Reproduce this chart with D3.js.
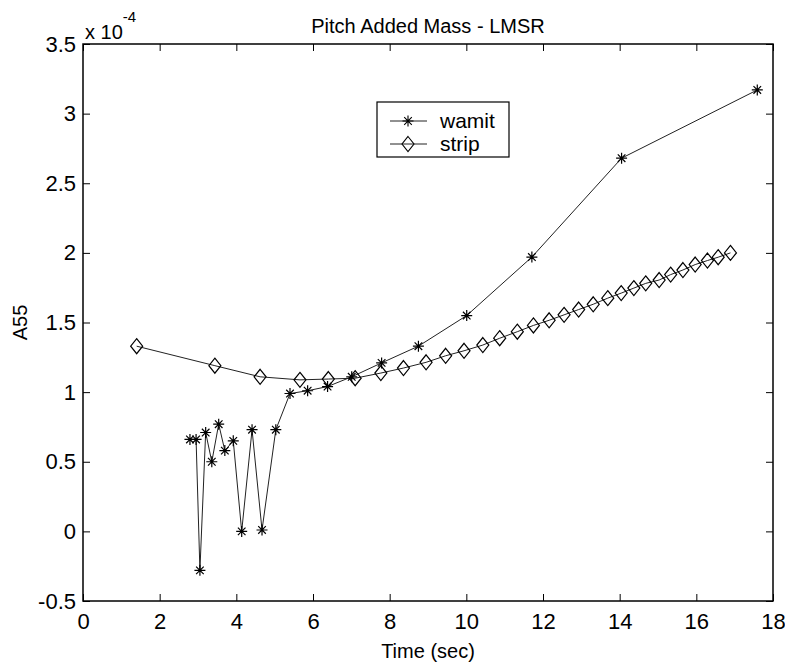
<!DOCTYPE html>
<html>
<head>
<meta charset="utf-8">
<script src="https://cdn.jsdelivr.net/npm/d3@7"></script>
<style>
  body { margin: 0; background: #fff; }
  text { font-family: "Liberation Sans", Arial, sans-serif; fill: #000; }
</style>
</head>
<body>
<div id="chart"></div>
<script>
// wamit: period (s) and A55 (x 1e-4)
const wamitT = [2.79, 2.95, 3.05, 3.20, 3.36, 3.54, 3.70, 3.92, 4.14, 4.41, 4.67, 5.03, 5.40, 5.86, 6.38,
                7.01, 7.79, 8.75, 10.01, 11.71, 14.05, 17.59];
const wamitA = [0.66, 0.66, -0.28, 0.71, 0.50, 0.77, 0.58, 0.65, 0.00, 0.73, 0.01, 0.73, 0.99, 1.01, 1.04,
                1.11, 1.21, 1.33, 1.55, 1.97, 2.68, 3.17];

// strip theory
const stripT = [1.40, 3.44, 4.62, 5.66, 6.40, 7.10, 7.77, 8.36, 8.95, 9.46, 9.94, 10.43, 10.87, 11.33,
                11.75, 12.16, 12.55, 12.93, 13.31, 13.69, 14.04, 14.37, 14.68, 15.03, 15.33, 15.65,
                15.97, 16.29, 16.57, 16.89];
const stripA = [1.33, 1.19, 1.11, 1.088, 1.094, 1.10, 1.137, 1.173, 1.214, 1.261, 1.297, 1.338, 1.387, 1.434,
                1.479, 1.516, 1.555, 1.593, 1.631, 1.675, 1.711, 1.747, 1.781, 1.805, 1.844, 1.877,
                1.916, 1.945, 1.969, 2.0];

const xTicks = [0, 2, 4, 6, 8, 10, 12, 14, 16, 18];
const yTicks = [-0.5, 0, 0.5, 1, 1.5, 2, 2.5, 3, 3.5];

const W = 785, H = 666;
const pL = 83, pR = 773, pT = 44, pB = 601;

const svg = d3.select("#chart").append("svg")
    .attr("width", W).attr("height", H);

const x = d3.scaleLinear().domain([0, 18]).range([pL, pR]);
const y = d3.scaleLinear().domain([-0.5, 3.5]).range([pB, pT]);

// axes with inward ticks on all four sides
const fmt = d => String(d);
const tickLen = 7;

const gx = svg.append("g").attr("transform", `translate(0,${pB})`)
    .call(d3.axisBottom(x).tickValues(xTicks).tickFormat(fmt).tickSize(-tickLen).tickPadding(12));
const gy = svg.append("g").attr("transform", `translate(${pL},0)`)
    .call(d3.axisLeft(y).tickValues(yTicks).tickFormat(fmt).tickSize(-tickLen).tickPadding(7));
svg.append("g").attr("transform", `translate(0,${pT})`)
    .call(d3.axisTop(x).tickValues(xTicks).tickFormat("").tickSize(-tickLen));
svg.append("g").attr("transform", `translate(${pR},0)`)
    .call(d3.axisRight(y).tickValues(yTicks).tickFormat("").tickSize(-tickLen));

svg.selectAll(".domain").remove();
svg.selectAll(".tick line").attr("stroke", "#000").attr("stroke-width", 1);
gx.selectAll(".tick text").style("font-size", "22px").attr("dy", "0.71em");
gy.selectAll(".tick text").style("font-size", "22px");

// frame
svg.append("rect")
    .attr("x", pL).attr("y", pT)
    .attr("width", pR - pL).attr("height", pB - pT)
    .attr("fill", "none").attr("stroke", "#000").attr("stroke-width", 1.5);

// lines
const wamit = wamitT.map((t, i) => [t, wamitA[i]]);
const strip = stripT.map((t, i) => [t, stripA[i]]);
const line = d3.line().x(d => x(d[0])).y(d => y(d[1]));

svg.append("path").attr("d", line(strip))
    .attr("fill", "none").attr("stroke", "#222").attr("stroke-width", 1);
svg.append("path").attr("d", line(wamit))
    .attr("fill", "none").attr("stroke", "#222").attr("stroke-width", 1);

// markers
const star = "M-5.5,0H5.5M0,-5.5V5.5M-3.8,-3.8L3.8,3.8M-3.8,3.8L3.8,-3.8";
const diamond = "M0,-7.5L6,0L0,7.5L-6,0Z";

svg.append("g").selectAll("path").data(strip).join("path")
    .attr("transform", d => `translate(${x(d[0])},${y(d[1])})`)
    .attr("d", diamond).attr("fill", "none").attr("stroke", "#000").attr("stroke-width", 1.2);
svg.append("g").selectAll("path").data(wamit).join("path")
    .attr("transform", d => `translate(${x(d[0])},${y(d[1])})`)
    .attr("d", star).attr("fill", "none").attr("stroke", "#000").attr("stroke-width", 1.2);

// legend
const lg = svg.append("g");
lg.append("rect").attr("x", 377).attr("y", 102).attr("width", 132).attr("height", 55)
    .attr("fill", "#fff").attr("stroke", "#000").attr("stroke-width", 1.2);
[["wamit", star, 121], ["strip", diamond, 144]].forEach(([name, shape, ly]) => {
    lg.append("line").attr("x1", 390).attr("x2", 427).attr("y1", ly).attr("y2", ly)
        .attr("stroke", "#222").attr("stroke-width", 1);
    lg.append("path").attr("transform", `translate(408,${ly})`).attr("d", shape)
        .attr("fill", "none").attr("stroke", "#000").attr("stroke-width", 1.1);
    lg.append("text").attr("x", 440).attr("y", ly).attr("dy", "0.35em")
        .style("font-size", "21px").text(name);
});

// title and labels
svg.append("text").attr("x", (pL + pR) / 2).attr("y", 26).attr("dy", "0.35em")
    .attr("text-anchor", "middle").style("font-size", "20px").text("Pitch Added Mass - LMSR");

const mult = svg.append("text").attr("x", 85).attr("y", 32).attr("dy", "0.35em").style("font-size", "20px");
mult.append("tspan").text("x 10");
mult.append("tspan").attr("dy", "-17").style("font-size", "15px").text("-4");

svg.append("text").attr("x", (pL + pR) / 2).attr("y", 651).attr("dy", "0.35em")
    .attr("text-anchor", "middle").style("font-size", "20px").text("Time (sec)");

svg.append("text").attr("transform", `translate(20,${(pT + pB) / 2}) rotate(-90)`)
    .attr("dy", "0.35em").attr("text-anchor", "middle").style("font-size", "20px").text("A55");
</script>
</body>
</html>
